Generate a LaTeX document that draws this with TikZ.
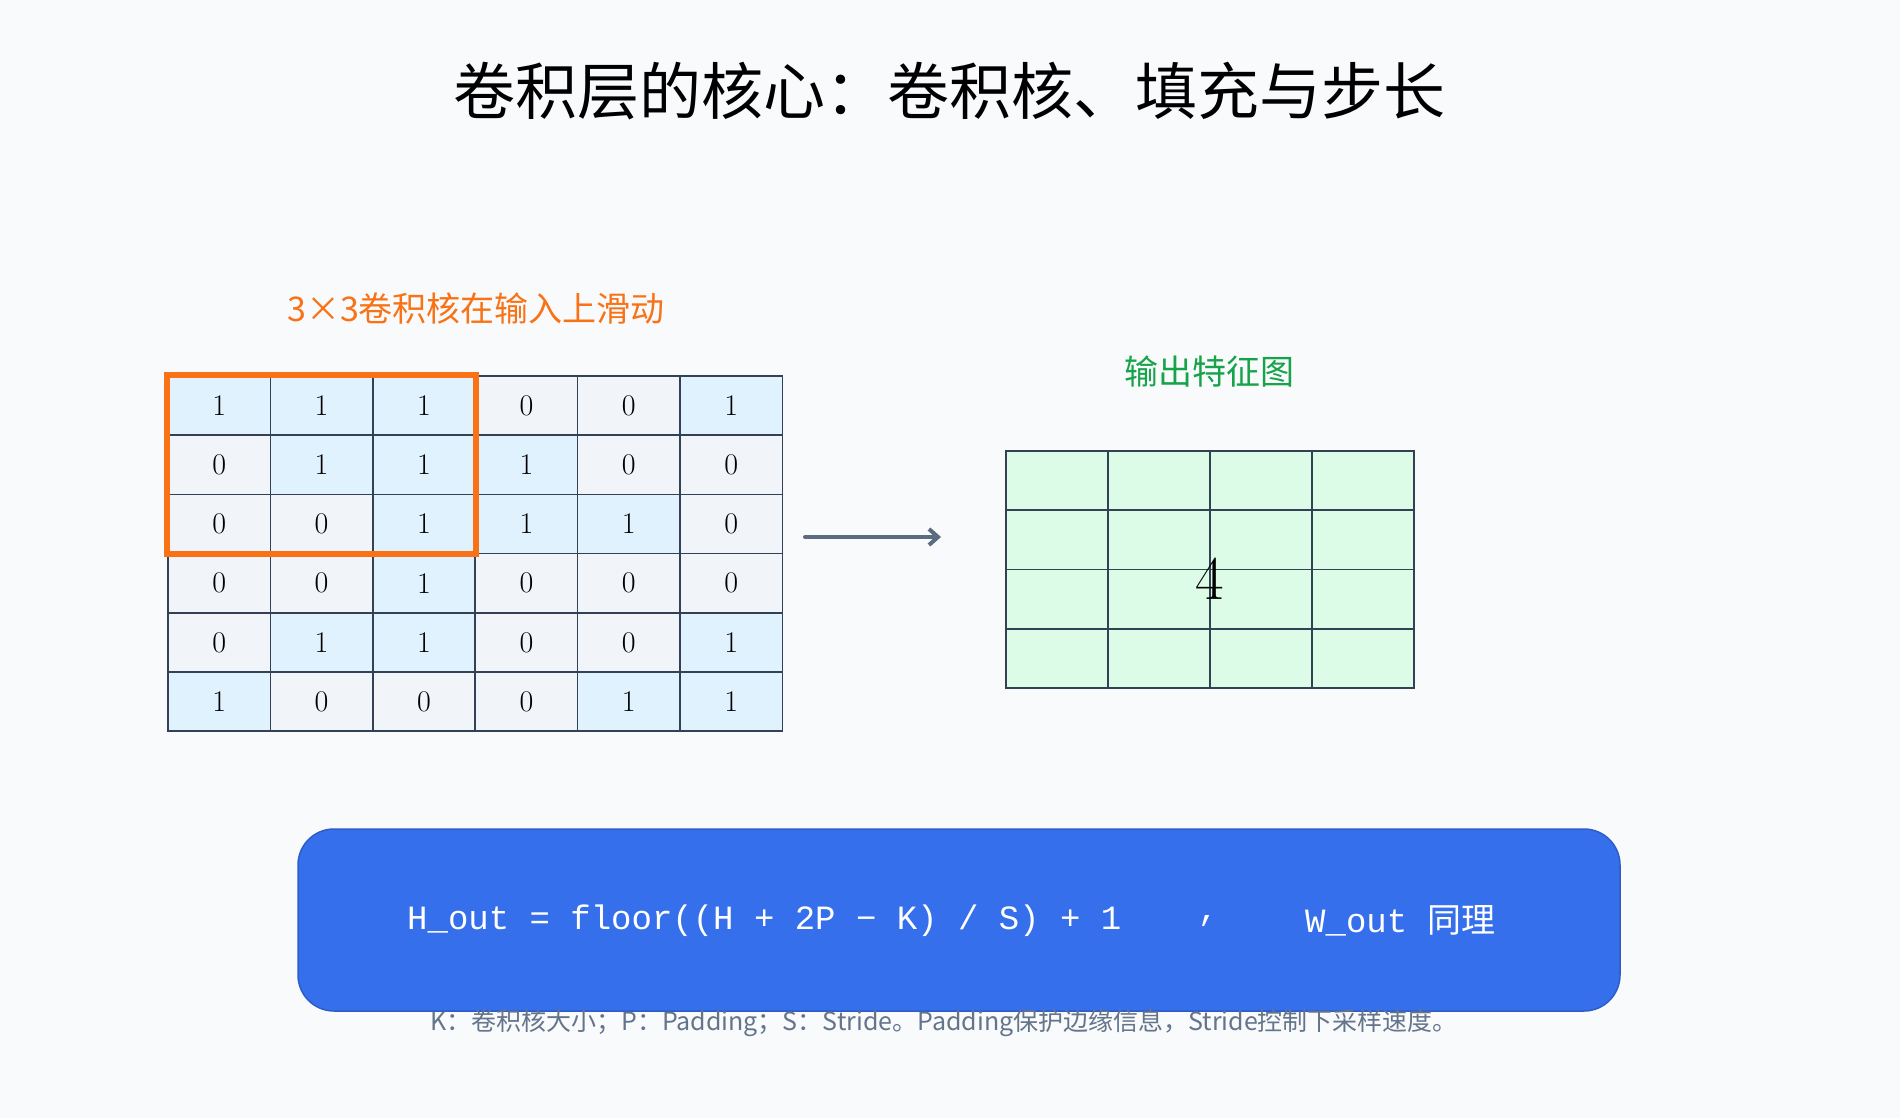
\documentclass[tikz,border=0pt]{standalone}
\usepackage{fontspec}
\setmonofont{Liberation Mono}
\newfontfamily\cjk{Noto Sans CJK SC}
\usetikzlibrary{positioning,arrows.meta}
\definecolor{bgcol}{HTML}{F8FAFC}
\definecolor{gridline}{HTML}{334155}
\definecolor{oncell}{HTML}{E0F2FE}
\definecolor{offcell}{HTML}{F1F5F9}
\definecolor{outcell}{HTML}{DCFCE7}
\definecolor{kernel}{HTML}{F97316}
\definecolor{outgreen}{HTML}{16A34A}
\definecolor{boxblue}{HTML}{356FEB}
\definecolor{arrowgray}{HTML}{5B6B80}
\definecolor{notegray}{HTML}{64748B}
\tikzset{
  cell/.style={draw=gridline,line width=1.6pt,minimum width=102.4pt,minimum height=59.2pt,inner sep=0pt,font=\fontsize{30}{30}\selectfont},
  outcellst/.style={draw=gridline,fill=outcell,line width=1.6pt,minimum width=102pt,minimum height=59.25pt,inner sep=0pt},
}
\begin{document}
\begin{tikzpicture}[x=1pt,y=-1pt]
\fill[bgcol] (0,0) rectangle (1900,1118);
\useasboundingbox (0,0) rectangle (1900,1118);

% title
\node (title) at (949,91) {\cjk\fontsize{62}{62}\selectfont 卷积层的核心：卷积核、填充与步长};
\node[text=kernel] (kerlabel) at (476,309) {\cjk\fontsize{34}{34}\selectfont 3×3卷积核在输入上滑动};

% input grid
\foreach \row [count=\r] in {{1,1,1,0,0,1},{0,1,1,1,0,0},{0,0,1,1,1,0},{0,0,1,0,0,0},{0,1,1,0,0,1},{1,0,0,0,1,1}}{
  \foreach \v [count=\c] in \row{
    \ifnum\v=1 \def\fc{oncell}\else\def\fc{offcell}\fi
    \node[cell,fill=\fc] (c-\r-\c) at ({168+102.4*(\c-0.5)},{376+59.2*(\r-0.5)}) {\v};
  }
}
% kernel window
\draw[kernel,line width=6pt] (c-1-1.north west) rectangle (c-3-3.south east);

% arrow
\coordinate (arrS) at (805,537);
\coordinate (arrE) at (941,537);
\draw[arrowgray,line width=4pt,line cap=round,-{Straight Barb[length=9pt,width=16pt]}] (arrS) -- (arrE);

% output grid
\node[text=outgreen] (outlabel) at (1209,372) {\cjk\fontsize{34}{34}\selectfont 输出特征图};
\foreach \r in {1,...,4}{
  \foreach \c in {1,...,4}{
    \node[outcellst] (o-\r-\c) at ({1006+102*(\c-0.5)},{451+59.25*(\r-0.5)}) {};
  }
}
\node[font=\fontsize{62}{62}\selectfont] (outval) at (1210,579) {4};

% formula box
\node[fill=boxblue,draw=boxblue!85!black,line width=1.5pt,rounded corners=36pt,minimum width=1322pt,minimum height=182pt] (fbox) at (959,920) {};
\node[text=white,anchor=west,inner sep=0pt] (fleft) at (407,921) {\ttfamily\fontsize{34}{34}\selectfont H\_out = floor((H + 2P − K) / S) + 1};
\node[text=white,inner sep=0pt] (fcomma) at (1208,921) {\ttfamily\fontsize{34}{34}\selectfont ,};
\node[text=white,anchor=west,inner sep=0pt] (fright) at (1305,921) {\ttfamily\fontsize{34}{34}\selectfont W\_out {\cjk 同理}};

% note
\node[text=notegray] (note) at (944,1023) {\cjk\fontsize{25}{25}\selectfont K：卷积核大小；P：Padding；S：Stride。Padding保护边缘信息，Stride控制下采样速度。};
\end{tikzpicture}
\end{document}
